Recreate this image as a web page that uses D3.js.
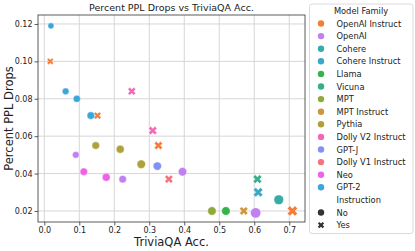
<!DOCTYPE html>
<html>
<head>
<meta charset="utf-8">
<script src="https://cdn.jsdelivr.net/npm/d3@7"></script>
<style>
  body { margin: 0; background: #fff; }
  svg text { font-family: "DejaVu Sans", sans-serif; fill: #222; }
</style>
</head>
<body>
<svg id="chart" width="415" height="251"></svg>
<script>
// model families (legend order) and their colours
var families = ["OpenAI Instruct", "OpenAI", "Cohere", "Cohere Instruct", "Llama", "Vicuna",
  "MPT", "MPT Instruct", "Pythia", "Dolly V2 Instruct", "GPT-J", "Dolly V1 Instruct", "Neo", "GPT-2"];
var familyColors = ["#f47d3a", "#c17ff2", "#36ada4", "#39a9c6", "#36b24c", "#35ae8c",
  "#8faa3a", "#cf953a", "#aea03a", "#f566b8", "#8093f3", "#f6727f", "#ee62ea", "#3aa6dc"];

// points
var pointFamily = ["OpenAI Instruct", "OpenAI Instruct", "OpenAI Instruct", "OpenAI Instruct",
  "OpenAI", "OpenAI", "OpenAI", "OpenAI",
  "Cohere", "Cohere Instruct", "Llama", "Vicuna", "MPT", "MPT Instruct",
  "Pythia", "Pythia", "Pythia",
  "Dolly V2 Instruct", "Dolly V2 Instruct", "GPT-J", "Dolly V1 Instruct",
  "Neo", "Neo",
  "GPT-2", "GPT-2", "GPT-2", "GPT-2"];
var pointAcc = [0.017, 0.152, 0.326, 0.709,
  0.090, 0.224, 0.395, 0.604,
  0.670, 0.611, 0.519, 0.609, 0.479, 0.570,
  0.147, 0.217, 0.277,
  0.250, 0.310, 0.323, 0.356,
  0.113, 0.177,
  0.019, 0.061, 0.093, 0.133];
var pointDrop = [0.100, 0.071, 0.055, 0.020,
  0.050, 0.037, 0.041, 0.019,
  0.026, 0.030, 0.020, 0.037, 0.020, 0.020,
  0.055, 0.053, 0.045,
  0.084, 0.063, 0.044, 0.037,
  0.041, 0.038,
  0.119, 0.084, 0.080, 0.071];
var pointInstruct = ["Yes", "Yes", "Yes", "Yes",
  "No", "No", "No", "No",
  "No", "Yes", "No", "Yes", "No", "Yes",
  "No", "No", "No",
  "Yes", "Yes", "No", "Yes",
  "No", "No",
  "No", "No", "No", "No"];
// model size, billions of parameters
var pointParams = [0.35, 1.3, 6.7, 175,
  0.35, 1.3, 6.7, 175,
  52, 52, 7, 13, 7, 7,
  1.4, 2.8, 6.9,
  3, 7, 6, 6,
  1.3, 2.7,
  0.124, 0.355, 0.774, 1.5];

var xTicks = [0.0, 0.1, 0.2, 0.3, 0.4, 0.5, 0.6, 0.7];
var yTicks = [0.02, 0.04, 0.06, 0.08, 0.10, 0.12];
var instructLevels = ["No", "Yes"];

var svg = d3.select("#chart");
var plotL = 38, plotR = 305, plotT = 15, plotB = 222;

var x = d3.scaleLinear().domain([-0.018, 0.745]).range([plotL, plotR]);
var y = d3.scaleLinear().domain([0.0141, 0.1248]).range([plotB, plotT]);
var color = d3.scaleOrdinal().domain(families).range(familyColors);
var radius = d3.scaleLog().domain([0.1, 200]).range([3, 5.2]);

function xShape(s) {
  // filled "X" marker, s = half of its extent
  return d3.symbol(d3.symbolCross, 5 * Math.pow(2 * s / 3, 2))();
}

// grid
svg.append("g").selectAll("line").data(xTicks).enter().append("line")
  .attr("x1", function(d) { return x(d); }).attr("x2", function(d) { return x(d); })
  .attr("y1", plotT).attr("y2", plotB)
  .attr("stroke", "#d6d6d6").attr("stroke-width", 1);
svg.append("g").selectAll("line").data(yTicks).enter().append("line")
  .attr("y1", function(d) { return y(d); }).attr("y2", function(d) { return y(d); })
  .attr("x1", plotL).attr("x2", plotR)
  .attr("stroke", "#d6d6d6").attr("stroke-width", 1);

// axes
var xAxis = svg.append("g").attr("transform", "translate(0," + plotB + ")")
  .call(d3.axisBottom(x).tickValues(xTicks).tickFormat(d3.format(".1f")).tickSize(3.5).tickPadding(2));
var yAxis = svg.append("g").attr("transform", "translate(" + plotL + ",0)")
  .call(d3.axisLeft(y).tickValues(yTicks).tickFormat(d3.format(".2f")).tickSize(3.5).tickPadding(2));
[xAxis, yAxis].forEach(function(a) {
  a.select(".domain").remove();
  a.selectAll("line").attr("stroke", "#333").attr("stroke-width", 0.8);
  a.selectAll("text").attr("font-size", 8).attr("font-family", "DejaVu Sans").attr("fill", "#222");
});

svg.append("rect").attr("x", plotL).attr("y", plotT)
  .attr("width", plotR - plotL).attr("height", plotB - plotT)
  .attr("fill", "none").attr("stroke", "#333").attr("stroke-width", 0.8);

// points
var pts = pointAcc.map(function(a, i) {
  return { acc: a, drop: pointDrop[i], family: pointFamily[i], instruct: pointInstruct[i], params: pointParams[i] };
});

var node = svg.append("g").selectAll("g").data(pts).enter().append("g")
  .attr("transform", function(d) { return "translate(" + x(d.acc) + "," + y(d.drop) + ")"; });
node.each(function(d) {
  var g = d3.select(this);
  var r = radius(d.params);
  var m;
  if (d.instruct === "Yes") {
    m = g.append("path").attr("d", xShape(r * 1.05)).attr("transform", "rotate(45)");
  } else {
    m = g.append("circle").attr("r", r);
  }
  m.attr("fill", color(d.family)).attr("stroke", "#fff").attr("stroke-width", 0.4);
});

// title and labels
svg.append("text").attr("x", (plotL + plotR) / 2).attr("y", 11)
  .attr("text-anchor", "middle").attr("font-size", 9.5)
  .text("Percent PPL Drops vs TriviaQA Acc.");
svg.append("text").attr("x", (plotL + plotR) / 2).attr("y", 246)
  .attr("text-anchor", "middle").attr("font-size", 11.5)
  .text("TriviaQA Acc.");
svg.append("text").attr("transform", "translate(13," + (plotT + plotB) / 2 + ") rotate(-90)")
  .attr("text-anchor", "middle").attr("font-size", 11.5)
  .text("Percent PPL Drops");

// legend
var lg = svg.append("g");
lg.append("rect").attr("x", 309.5).attr("y", 4).attr("width", 103.5).attr("height", 229.5)
  .attr("rx", 2.5).attr("fill", "#fff").attr("stroke", "#d0d0d0").attr("stroke-width", 0.8);
var rowH = 12.6, row0 = 23.5;
lg.append("text").attr("x", 361).attr("y", 14).attr("text-anchor", "middle")
  .attr("font-size", 8.3).text("Model Family");
families.forEach(function(f, i) {
  var yy = row0 + i * rowH;
  lg.append("circle").attr("cx", 321).attr("cy", yy).attr("r", 3.2).attr("fill", color(f));
  lg.append("text").attr("x", 336.5).attr("y", yy + 3).attr("font-size", 8.3).text(f);
});
var yInst = row0 + families.length * rowH;
lg.append("text").attr("x", 336.5).attr("y", yInst + 3).attr("font-size", 8.3).text("Instruction");
instructLevels.forEach(function(l, i) {
  var yy = yInst + (i + 1) * rowH;
  var g = lg.append("g").attr("transform", "translate(321," + yy + ")");
  if (l === "Yes") {
    g.append("path").attr("d", xShape(3.4)).attr("transform", "rotate(45)").attr("fill", "#333");
  } else {
    g.append("circle").attr("r", 3.2).attr("fill", "#333");
  }
  lg.append("text").attr("x", 336.5).attr("y", yy + 3).attr("font-size", 8.3).text(l);
});
</script>
</body>
</html>
